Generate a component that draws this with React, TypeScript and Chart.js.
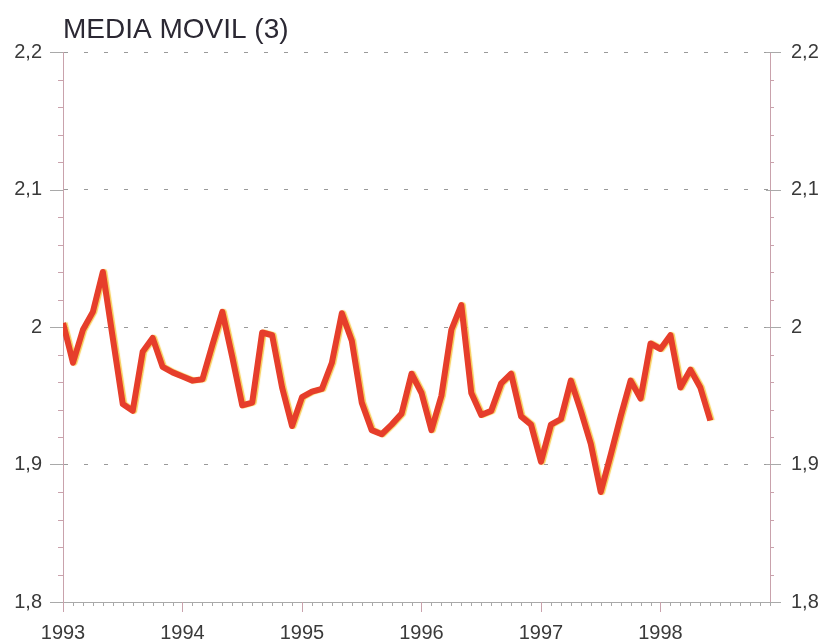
import React, { useEffect, useRef } from "react";
import { Chart, registerables } from "chart.js";

Chart.register(...registerables);

const titleText = "MEDIA MOVIL (3)";
const startYear = 1993;
const yearLabels = ["1993", "1994", "1995", "1996", "1997", "1998"];
const yTicks = [1.8, 1.9, 2.0, 2.1, 2.2];
// monthly values, Jan 1993 .. Jun 1998
const movingAverage = [
  2.003, 1.974, 1.998, 2.011, 2.040, 1.992, 1.944, 1.939, 1.982, 1.992, 1.971, 1.967,
  1.964, 1.961, 1.962, 1.987, 2.011, 1.978, 1.943, 1.945, 1.996, 1.994, 1.956, 1.928,
  1.949, 1.953, 1.955, 1.974, 2.010, 1.990, 1.945, 1.925, 1.922, 1.929, 1.937, 1.966,
  1.952, 1.925, 1.950, 1.998, 2.016, 1.952, 1.936, 1.939, 1.959, 1.966, 1.935, 1.929,
  1.902, 1.929, 1.933, 1.961, 1.939, 1.915, 1.880, 1.907, 1.935, 1.961, 1.948, 1.988,
  1.984, 1.994, 1.956, 1.969, 1.956, 1.932,
];
const monthsOnAxis = 71;

const FONT = "'Liberation Sans', Arial, Helvetica, sans-serif";
const AXIS_PINK = "#c9a2ac";
const AXIS_GRAY = "#a9a9a9";

const fmtY = (v: number) => String(Number(v.toFixed(1))).replace(".", ",");

const tickPlugin = {
  id: "customTicks",
  beforeDatasetsDraw(chart: any) {
    const ctx = chart.ctx;
    ctx.save();
    ctx.shadowColor = "rgba(246, 196, 60, 0.85)";
    ctx.shadowOffsetX = 1.5;
    ctx.shadowOffsetY = 0;
    ctx.shadowBlur = 1;
  },
  afterDatasetsDraw(chart: any) {
    chart.ctx.restore();
  },
  afterDraw(chart: any) {
    const ctx = chart.ctx;
    const x = chart.scales.x;
    const y = chart.scales.y;
    const area = chart.chartArea;
    ctx.save();
    ctx.lineWidth = 1;
    // x ticks
    for (let m = 0; m <= monthsOnAxis; m++) {
      const px = Math.round(x.getPixelForValue(m)) + 0.5;
      const major = m % 12 === 0;
      ctx.strokeStyle = major ? AXIS_PINK : AXIS_GRAY;
      ctx.beginPath();
      ctx.moveTo(px, area.bottom);
      ctx.lineTo(px, area.bottom + (major ? 10 : 4));
      ctx.stroke();
    }
    // y ticks
    for (let i = 0; i <= 20; i++) {
      const v = 1.8 + i * 0.02;
      const py = Math.round(y.getPixelForValue(v)) + 0.5;
      const major = i % 5 === 0;
      ctx.strokeStyle = major ? AXIS_GRAY : AXIS_PINK;
      ctx.beginPath();
      ctx.moveTo(area.left - (major ? 13 : 5), py);
      ctx.lineTo(area.left, py);
      ctx.stroke();
      ctx.beginPath();
      ctx.moveTo(area.right - (major ? 4 : 0), py);
      ctx.lineTo(area.right + (major ? 11 : 4), py);
      ctx.stroke();
    }
    // title
    ctx.fillStyle = "#2b2833";
    ctx.font = `28px ${FONT}`;
    ctx.textBaseline = "alphabetic";
    ctx.textAlign = "left";
    ctx.fillText(titleText, area.left, 38);
    ctx.restore();
  },
};

export default function App() {
  const ref = useRef<HTMLCanvasElement | null>(null);
  useEffect(() => {
    document.body.style.margin = "0";
    const points = movingAverage.map((v, i) => ({ x: i, y: v }));
    const chart = new Chart(ref.current as HTMLCanvasElement, {
      type: "line",
      data: {
        datasets: [
          {
            data: points,
            borderColor: "#e63e2b",
            borderWidth: 6,
            pointRadius: 0,
            tension: 0,
            borderJoinStyle: "round",
            borderCapStyle: "butt",
          },
        ],
      },
      plugins: [tickPlugin],
      options: {
        animation: false,
        responsive: false,
        maintainAspectRatio: false,
        layout: { padding: { top: 52, left: 0, right: 0, bottom: 0 } },
        plugins: { legend: { display: false }, tooltip: { enabled: false }, title: { display: false } },
        scales: {
          x: {
            type: "linear",
            min: 0,
            max: monthsOnAxis,
            afterFit: (s: any) => { s.height = 42; },
            afterBuildTicks: (s: any) => {
              s.ticks = yearLabels.map((_, i) => ({ value: i * 12 }));
            },
            ticks: {
              autoSkip: false,
              maxRotation: 0,
              padding: 19,
              color: "#3a3a3a",
              font: { family: FONT, size: 20 },
              callback: (v: any) => String(startYear + Math.round(Number(v) / 12)),
            },
            grid: { drawOnChartArea: false, drawTicks: false },
            border: { display: true, color: AXIS_GRAY, width: 1 },
          },
          y: {
            position: "left",
            min: 1.8,
            max: 2.2,
            afterFit: (s: any) => { s.width = 63; },
            afterBuildTicks: (s: any) => { s.ticks = yTicks.map((v) => ({ value: v })); },
            ticks: {
              padding: 21,
              color: "#3a3a3a",
              font: { family: FONT, size: 20 },
              callback: (v: any) => fmtY(Number(v)),
            },
            grid: {
              drawTicks: false,
              color: (c: any) => (c.tick && Math.abs(c.tick.value - 1.8) < 1e-6 ? "rgba(0,0,0,0)" : "#9a9a9a"),
              lineWidth: 1,
            },
            border: { display: true, color: AXIS_PINK, width: 1, dash: [4, 16] },
          },
          y2: {
            position: "right",
            min: 1.8,
            max: 2.2,
            afterFit: (s: any) => { s.width = 55; },
            afterBuildTicks: (s: any) => { s.ticks = yTicks.map((v) => ({ value: v })); },
            ticks: {
              padding: 21,
              color: "#3a3a3a",
              font: { family: FONT, size: 20 },
              callback: (v: any) => fmtY(Number(v)),
            },
            grid: { drawOnChartArea: false, drawTicks: false },
            border: { display: true, color: AXIS_PINK, width: 1 },
          },
        },
      },
    } as any);
    return () => chart.destroy();
  }, []);
  return (
    <div style={{ position: "absolute", left: 0, top: 0, width: 825, height: 644, background: "#fff" }}>
      <canvas ref={ref} width={825} height={644} style={{ display: "block" }} />
    </div>
  );
}
